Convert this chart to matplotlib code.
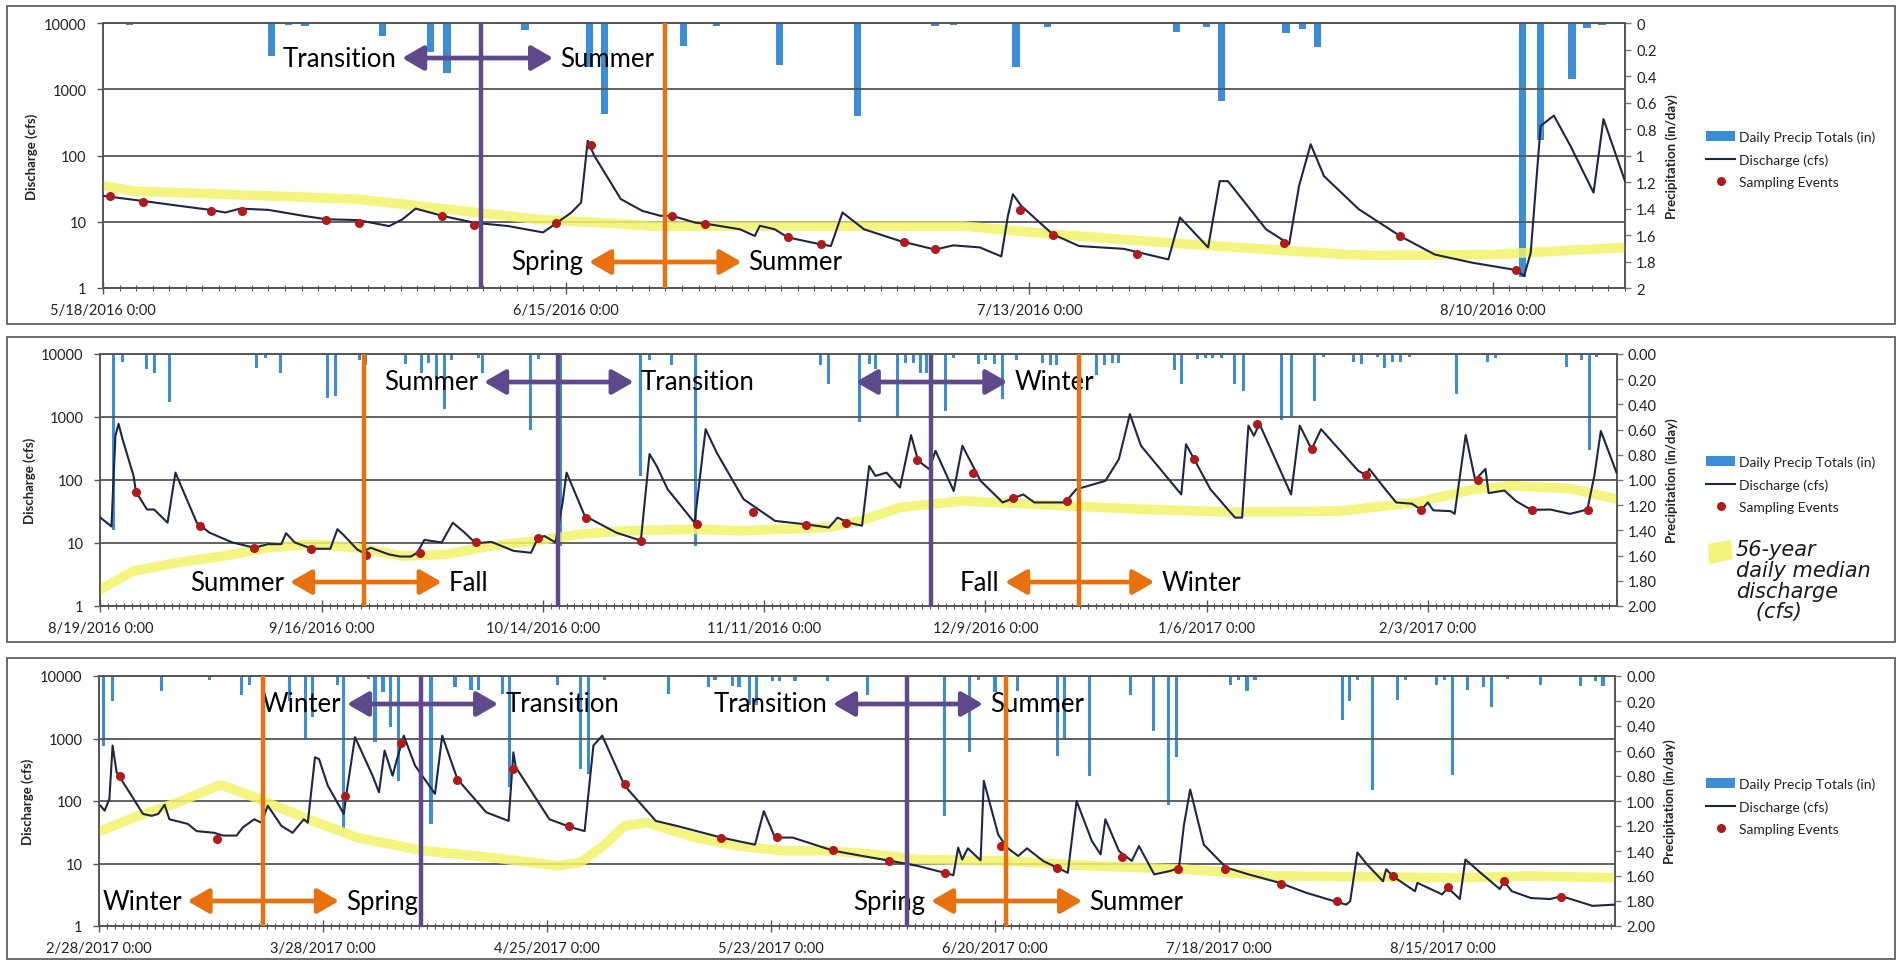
import numpy as np
import matplotlib
matplotlib.use("Agg")
import matplotlib.pyplot as plt
import matplotlib.dates as mdates
from matplotlib.patches import Rectangle, Polygon, Patch
from matplotlib.lines import Line2D
from matplotlib.ticker import FixedLocator, FuncFormatter, NullLocator
from datetime import datetime, timedelta

plt.rcParams['font.family'] = ['Lato', 'DejaVu Sans']

# ---------------- data (x = days since panel start) ----------------
# panel 1: 5/18/2016 - 8/18/2016
p1_start = datetime(2016, 5, 18)
p1_span = 92.0
p1_q_day = [0.0, 2.4, 4.6, 6.5, 7.4, 8.3, 10.0, 12.1, 13.5, 15.4, 17.3, 18.1, 18.9, 20.5, 22.4,
            24.5, 26.6, 27.4, 28.3, 28.9, 29.3, 29.7, 31.3, 32.6, 33.7, 34.4, 35.8, 36.6, 38.5,
            39.4, 39.7, 40.6, 41.4, 43.3, 44.0, 44.7, 46.0, 48.2, 50.3, 51.4, 53.0, 54.3, 54.7,
            55.0, 55.5, 57.4, 59.0, 61.7, 64.4, 65.1, 66.8, 67.5, 68.0, 70.3, 71.7, 72.3, 73.0,
            73.8, 75.9, 78.4, 80.5, 82.8, 85.4, 85.9, 86.3, 86.9, 87.7, 88.7, 90.1, 90.7, 92.0]
p1_q = [24.6, 20.6, 17.4, 15.1, 13.8, 15.8, 15.1, 12.3, 10.9, 10.6, 8.6, 10.9, 15.8, 12.3, 9.7,
        8.6, 6.9, 9.5, 13.7, 19.5, 167, 99, 22, 14.6, 12.3, 12.3, 9.7, 9.2, 7.7,
        6.1, 8.7, 7.7, 5.8, 4.6, 4.3, 13.8, 7.7, 5.1, 3.8, 4.4, 4.1, 3.0, 12.3,
        26, 17.4, 6.5, 4.3, 3.9, 2.7, 11.6, 4.1, 41, 41, 7.7, 4.6, 35, 148,
        49, 15.5, 6.1, 3.2, 2.4, 1.87, 1.52, 3.4, 280, 400, 140, 27.5, 355, 41]
p1_s_day = [0.4, 2.4, 6.5, 8.4, 13.5, 15.5, 20.5, 22.4, 27.4, 29.5, 34.4, 36.4, 41.4, 43.4,
            48.4, 50.3, 55.4, 57.4, 62.5, 71.4, 78.4, 85.4]
p1_s_q = [24.6, 20, 14.5, 14.5, 10.6, 9.7, 12.3, 9.0, 9.5, 143, 12.3, 9.2, 5.8, 4.6,
          4.95, 3.9, 15, 6.3, 3.3, 4.8, 6.1, 1.87]
p1_m_day = [0, 1.9, 10, 15.4, 20.8, 26.2, 31.6, 33.1, 52, 57.4, 65.5, 75.2, 77, 84, 92]
p1_m_q = [34.8, 29, 24.6, 21.9, 15.5, 10.9, 9.2, 8.6, 8.6, 6.5, 4.6, 3.2, 3.1, 3.2, 4.1]
p1_r_day = [1.6, 10.2, 11.2, 12.2, 16.9, 19.8, 20.8, 25.5, 29.4, 30.3, 35.1, 37.1, 40.9, 45.6,
            50.3, 51.4, 55.2, 57.1, 64.9, 66.7, 67.6, 71.5, 72.5, 73.4, 85.8, 86.9, 88.8, 89.7, 90.6]
p1_r_in = [0.015, 0.25, 0.015, 0.025, 0.1, 0.22, 0.38, 0.05, 0.33, 0.69, 0.17, 0.02, 0.32, 0.7,
           0.02, 0.015, 0.33, 0.03, 0.065, 0.03, 0.59, 0.075, 0.045, 0.18, 1.92, 0.88, 0.42, 0.04, 0.015]

# panel 2: 8/19/2016 - 2/27/2017
p2_start = datetime(2016, 8, 19)
p2_span = 191.9
p2_q_day = [0.0, 1.4, 1.9, 2.3, 2.8, 4.2, 4.5, 5.9, 6.8, 8.5, 9.5, 10.2, 12.2, 13.8, 16.7, 19.5,
            21.2, 22.9, 23.5, 24.6, 26.8, 29.1, 30.0, 30.8, 32.5, 33.1, 34.2, 36.5, 37.9, 39.3,
            40.1, 41.0, 43.2, 44.6, 46.1, 47.5, 49.5, 52.3, 54.5, 55.4, 56.2, 57.6, 58.5, 59.0,
            61.3, 65.3, 68.4, 69.5, 70.4, 71.8, 75.2, 76.6, 78.0, 81.4, 85.4, 89.3, 92.2, 93.3,
            94.7, 96.4, 97.3, 98.1, 99.5, 101.2, 102.6, 103.5, 104.9, 105.7, 108.0, 109.1, 111.4,
            114.2, 116.8, 118.2, 122.1, 123.5, 127.2, 128.9, 130.3, 131.7, 136.8, 137.4, 140.5,
            143.6, 144.5, 145.3, 146.0, 146.7, 150.7, 151.8, 153.3, 154.5, 159.2, 160.2, 160.6,
            162.6, 164.0, 166.0, 167.2, 168.0, 168.7, 170.9, 171.4, 172.8, 174.0, 175.3, 175.7,
            177.7, 179.2, 181.1, 183.5, 186.0, 188.2, 189.1, 189.9, 190.9, 191.9]
p2_q = [25.3, 18.3, 505, 778, 446, 116, 65, 34, 34, 21, 131, 81, 21, 14.6, 10.2, 8.4,
        9.6, 9.6, 14.3, 10.2, 8.1, 8.1, 16.6, 13.3, 7.9, 7.2, 8.4, 6.6, 6.1, 6.1,
        7.0, 11.2, 10.2, 21, 14.6, 9.9, 10.4, 7.5, 7.0, 12.2, 12.9, 10.2, 44, 131,
        27, 14.6, 10.9, 258, 167, 71, 21, 640, 272, 49.6, 22.4, 19.8, 17.6, 25.3,
        21, 18.8, 167, 116, 131, 76, 515, 202, 149, 290, 67, 350, 97,
        44, 59, 44, 44, 71, 97, 214, 1110, 350, 59, 370, 71,
        25.3, 25.3, 730, 505, 778, 59, 730, 308, 640, 140, 119, 150,
        72, 44, 42, 33.6, 44, 33, 32, 29, 520, 100, 150, 62,
        68, 46, 33.6, 34, 29, 34, 120, 600, 280, 130]
p2_s_day = [4.5, 12.6, 19.5, 26.7, 33.6, 40.4, 47.5, 55.4, 61.4, 68.4, 75.5, 82.6, 89.3, 94.4,
            103.4, 110.4, 115.5, 122.4, 138.4, 146.4, 153.3, 160.2, 167.2, 174.3, 181.2, 188.3]
p2_s_q = [65, 18.3, 8.2, 8.1, 6.4, 6.9, 10.2, 11.9, 24.8, 10.8, 19.8, 31, 19.1, 21,
          207, 127, 52.6, 46.5, 214, 778, 308, 119, 33.6, 100, 33.6, 34]
p2_m_day = [0, 4.2, 9.9, 15.5, 21.2, 26.8, 32.5, 38.2, 43.8, 49.5, 55.1, 60.8, 66.4, 75.4, 80.9,
            92.2, 96.1, 101.2, 109.1, 120.4, 131.7, 143.0, 156.7, 166.5, 173.8, 178.7, 186.0, 191.9]
p2_m_q = [1.84, 3.6, 4.9, 6.2, 8.4, 9.6, 8.4, 6.2, 6.6, 9.0, 10.8, 13.8, 15.6, 16.5, 15.6,
          17.6, 22.4, 36.5, 46.5, 40, 34.4, 31, 32, 44, 71, 81, 73, 50]
p2_r_day = [1.7, 2.8, 5.8, 6.8, 8.8, 19.8, 20.9, 22.8, 28.8, 29.8, 32.8, 33.6, 38.6, 39.6, 40.6,
            41.5, 42.6, 43.5, 44.5, 47.8, 48.4, 53.4, 54.4, 55.4, 58.2, 68.4, 69.5, 72.3, 75.3,
            91.2, 92.2, 96.1, 97.3, 98.1, 100.9, 101.9, 102.9, 103.8, 104.6, 106.9, 108.0, 111.1,
            112.0, 113.1, 114.2, 116.0, 119.2, 120.2, 121.0, 126.1, 127.1, 128.1, 128.9, 132.3,
            133.1, 136.0, 136.8, 138.8, 139.9, 140.8, 141.9, 143.6, 144.7, 145.9, 149.5, 150.7,
            153.7, 154.8, 158.6, 159.6, 161.6, 162.5, 163.5, 164.6, 165.7, 171.6, 175.5, 176.6,
            185.5, 187.5, 188.5, 189.4]
p2_r_in = [1.4, 0.06, 0.12, 0.15, 0.38, 0.11, 0.03, 0.15, 0.35, 0.33, 0.05, 0.09, 0.08, 0.01, 0.15,
           0.07, 0.2, 0.44, 0.05, 0.03, 0.15, 0.01, 0.6, 0.04, 1.52, 0.97, 0.05, 0.09, 1.52,
           0.09, 0.24, 0.54, 0.08, 0.12, 0.5, 0.07, 0.07, 0.15, 0.15, 0.45, 0.03, 0.08,
           0.05, 0.08, 0.36, 0.05, 0.07, 0.09, 0.09, 0.17, 0.09, 0.07, 0.07, 0.01,
           0.01, 0.13, 0.24, 0.04, 0.03, 0.03, 0.03, 0.24, 0.29, 0.01, 0.52, 0.49,
           0.37, 0.02, 0.06, 0.08, 0.02, 0.11, 0.06, 0.06, 0.02, 0.32, 0.06, 0.03,
           0.10, 0.05, 0.76, 0.02]

# panel 3: 2/28/2017 - 9/5/2017
p3_start = datetime(2017, 2, 28)
p3_span = 189.5
p3_q_day = [0.2, 0.7, 1.3, 1.7, 2.2, 3.8, 5.5, 6.6, 7.4, 8.2, 8.8, 11.1, 12.2, 14.4, 15.5, 17.2,
            18.0, 19.4, 20.3, 21.1, 22.8, 24.2, 25.6, 26.1, 27.0, 27.5, 28.6, 30.6, 30.9, 32.0,
            34.2, 35.0, 35.7, 36.7, 37.2, 38.1, 39.5, 42.0, 42.9, 44.8, 48.4, 51.2, 51.8, 52.1,
            56.3, 59.0, 60.7, 61.8, 62.9, 65.7, 69.6, 72.2, 77.8, 82.0, 83.1, 84.5, 86.7, 91.8,
            95.7, 99.0, 102.4, 105.7, 106.8, 107.4, 107.9, 108.6, 110.2, 110.6, 112.4, 113.5,
            114.9, 116.0, 118.0, 121.1, 122.2, 124.1, 125.2, 125.8, 127.5, 129.1, 130.0, 131.9,
            133.9, 135.0, 135.6, 136.4, 138.1, 140.9, 143.7, 147.6, 150.9, 154.4, 155.9, 156.4,
            157.3, 158.5, 160.5, 160.9, 161.7, 164.5, 164.8, 167.9, 168.6, 170.1, 170.8, 172.7,
            175.1, 175.6, 176.6, 179.0, 181.4, 182.8, 186.7, 189.5]
p3_q = [84, 70, 108, 772, 289, 138, 62, 58, 62, 87, 51, 43, 33, 31, 28, 28,
        38, 51, 45, 84, 40, 31, 51, 45, 500, 470, 176, 62, 122, 1050,
        254, 138, 640, 254, 443, 1110, 370, 130, 1110, 224, 66, 48, 600, 347,
        51, 38, 33, 772, 1110, 176, 48, 40, 26, 20, 69, 26, 26, 16,
        13, 11, 9.1, 7.1, 6.5, 18, 11.6, 17.5, 11.2, 210, 29, 18,
        13.2, 17.5, 11, 7.1, 100, 23, 14, 51, 15.8, 11, 19, 6.7,
        7.6, 8.6, 40, 153, 20, 8.6, 6.7, 4.9, 3.4, 2.5, 2.2, 2.5,
        15, 9.7, 5.2, 8.1, 6.3, 3.6, 4.9, 3.2, 4.1, 2.7, 11.6, 7.1,
        3.9, 5.2, 3.6, 2.8, 2.7, 3.0, 2.1, 2.2]
p3_s_day = [2.6, 14.8, 30.8, 37.7, 44.8, 51.7, 58.7, 65.7, 77.8, 84.8, 91.8, 98.7, 105.7, 112.8,
            119.8, 127.9, 134.9, 140.8, 147.7, 154.7, 161.7, 168.6, 175.6, 182.8]
p3_s_q = [254, 24.5, 122, 840, 217, 325, 40, 187, 26, 26.5, 16.2, 11, 7.1, 19,
          8.4, 12.7, 8.2, 8.2, 4.76, 2.5, 6.3, 4.2, 5.2, 2.9]
p3_m_day = [0.2, 4.4, 9.9, 14.9, 15.5, 18.9, 26.7, 32.3, 40.6, 49.0, 57.4, 60.2, 63.0, 65.7, 68.5,
            74.5, 80.0, 85.6, 91.2, 96.8, 102.4, 113.5, 124.7, 135.8, 147.0, 159.7, 169.4, 179.0, 189.5]
p3_m_q = [33, 55, 95, 176, 176, 122, 48, 26, 16, 12.5, 9.2, 10.4, 19, 40, 45,
          26, 19, 16, 16, 14, 11.6, 11, 9.1, 8.1, 6.3, 6.1, 5.9, 6.3, 5.9]
p3_r_day = [0.6, 1.7, 3.8, 7.8, 13.8, 17.8, 18.8, 23.8, 25.8, 26.7, 29.8, 30.6, 33.7, 34.5, 35.5,
            36.4, 37.4, 41.5, 44.5, 46.5, 47.4, 50.4, 51.3, 57.3, 60.2, 61.2, 63.2, 71.2, 76.2,
            77.0, 79.2, 80.0, 81.3, 82.2, 84.2, 85.1, 87.0, 91.1, 96.1, 105.7, 108.8, 109.9,
            112.0, 114.8, 119.8, 120.7, 123.8, 128.9, 131.8, 133.7, 134.7, 141.4, 142.4, 143.5,
            144.5, 155.4, 156.3, 157.3, 159.2, 162.3, 163.3, 167.2, 168.2, 169.2, 171.1, 173.1,
            174.1, 176.1, 180.2, 185.2, 187.1, 188.0]
p3_r_in = [0.56, 0.2, 0.01, 0.12, 0.03, 0.15, 0.07, 0.2, 0.5, 0.33, 0.07, 1.22, 0.02, 0.53, 0.13,
           0.41, 0.84, 1.18, 0.09, 0.11, 0.11, 0.14, 0.89, 0.07, 0.74, 0.78, 0.03, 0.14, 0.09,
           0.03, 0.08, 0.09, 0.23, 0.23, 0.04, 0.04, 0.04, 0.04, 0.15, 1.12, 0.61, 0.03,
           0.13, 0.12, 0.64, 0.51, 0.8, 0.15, 0.44, 1.03, 0.65, 0.07, 0.03, 0.12,
           0.03, 0.35, 0.2, 0.03, 0.91, 0.19, 0.03, 0.07, 0.03, 0.79, 0.11, 0.09,
           0.25, 0.02, 0.07, 0.08, 0.04, 0.08]

# season boundaries (day, colour) and arrow labels
p1_bounds = [(22.85, 'purple'), (33.98, 'orange')]
p1_arrows = [(18.08, 27.21, 2960, 'purple', 'Transition', 'Summer'),
             (29.38, 38.6, 2.47, 'orange', 'Spring', 'Summer')]
p2_bounds = [(33.37, 'orange'), (57.9, 'purple'), (105.1, 'purple'), (123.9, 'orange')]
p2_arrows = [(48.56, 67.5, 3594, 'purple', 'Summer', 'Transition'),
             (24.0, 43.2, 2.4, 'orange', 'Summer', 'Fall'),
             (95.6, 114.8, 3594, 'purple', '', 'Winter'),
             (114.5, 133.4, 2.4, 'orange', 'Fall', 'Winter')]
p3_bounds = [(20.5, 'orange'), (40.25, 'purple'), (101.0, 'purple'), (113.4, 'orange')]
p3_arrows = [(31.0, 49.9, 3565, 'purple', 'Winter', 'Transition'),
             (11.06, 30.0, 2.51, 'orange', 'Winter', 'Spring'),
             (91.75, 110.5, 3565, 'purple', 'Transition', 'Summer'),
             (104.0, 122.9, 2.51, 'orange', 'Spring', 'Summer')]

# ---------------- style ----------------
W, H = 1904, 962
BLUE = '#3B8ED6'
NAVY = '#1E2545'
RED = '#B01A1A'
YELLOW = '#F3F36A'
PURPLE = '#5E4A8A'
ORANGE = '#E8710E'
GRID = '#555555'
COLORS = {'purple': PURPLE, 'orange': ORANGE}

fig = plt.figure(figsize=(W / 100, H / 100), dpi=100)


def fx(px):
    return px / W


def fy(py):
    return 1 - py / H


def days(start, d):
    return [start + timedelta(days=float(v)) for v in d]


panels = [
    dict(rect=(103, 24, 1625, 289), start=p1_start, span=p1_span, q_day=p1_q_day, q=p1_q,
         s_day=p1_s_day, s_q=p1_s_q, m_day=p1_m_day, m_q=p1_m_q, r_day=p1_r_day, r_in=p1_r_in,
         bar_w=0.45, fmt='%g', bounds=p1_bounds, arrows=p1_arrows, frame=(7, 7, 1895, 325),
         legend_y=140),
    dict(rect=(100.4, 355, 1616.6, 607), start=p2_start, span=p2_span, q_day=p2_q_day, q=p2_q,
         s_day=p2_s_day, s_q=p2_s_q, m_day=p2_m_day, m_q=p2_m_q, r_day=p2_r_day, r_in=p2_r_in,
         bar_w=0.38, fmt='%.2f', bounds=p2_bounds, arrows=p2_arrows, frame=(7, 338, 1895, 643),
         legend_y=465),
    dict(rect=(99, 677, 1615, 927), start=p3_start, span=p3_span, q_day=p3_q_day, q=p3_q,
         s_day=p3_s_day, s_q=p3_s_q, m_day=p3_m_day, m_q=p3_m_q, r_day=p3_r_day, r_in=p3_r_in,
         bar_w=0.38, fmt='%.2f', bounds=p3_bounds, arrows=p3_arrows, frame=(7, 659, 1895, 960),
         legend_y=787),
]

for p in panels:
    x0, y0, x1, y1 = p['rect']
    # outer frame of the panel
    f0, g0, f1, g1 = p['frame']
    fig.patches.append(Rectangle((fx(f0), fy(g1)), fx(f1 - f0), (g1 - g0) / H,
                                 transform=fig.transFigure, fill=False,
                                 edgecolor='#606060', lw=1.3, zorder=0))

    ax = fig.add_axes([fx(x0), fy(y1), fx(x1 - x0), (y1 - y0) / H])
    ax2 = ax.twinx()
    ax.set_zorder(ax2.get_zorder() + 1)
    ax.patch.set_visible(False)

    start = p['start']
    end = start + timedelta(days=p['span'])

    # precipitation bars hanging from the top
    ax2.bar(days(start, p['r_day']), p['r_in'], width=p['bar_w'], color=BLUE, zorder=2)
    ax2.set_ylim(2, 0)
    ax2.set_yticks(np.arange(0, 2.01, 0.2))
    ax2.yaxis.set_major_formatter(FuncFormatter(lambda v, pos, f=p['fmt']: f % v))
    ax2.tick_params(axis='y', length=4, width=1, color='#777777', labelsize=10.5,
                    pad=4, labelcolor='#222222')
    ax2.set_ylabel('Precipitation (in/day)', fontsize=9.5, fontweight='bold',
                   color='#222222', labelpad=6)

    # median, discharge, sampling events
    ax.plot(days(start, p['m_day']), p['m_q'], color=YELLOW, lw=7, alpha=0.85,
            solid_capstyle='round', zorder=2)
    ax.plot(days(start, p['q_day']), p['q'], color=NAVY, lw=1.5, zorder=3)
    ax.plot(days(start, p['s_day']), p['s_q'], ls='', marker='o', ms=5.5,
            color=RED, zorder=4)

    ax.set_yscale('log')
    ax.set_ylim(1, 10000)
    ax.set_yticks([1, 10, 100, 1000, 10000])
    ax.set_yticklabels(['1', '10', '100', '1000', '10000'])
    ax.yaxis.set_minor_locator(NullLocator())
    ax.tick_params(axis='y', length=4, width=1, color='#555555', labelsize=10.5,
                   pad=8, labelcolor='#222222')
    ax.set_ylabel('Discharge (cfs)', fontsize=9.5, fontweight='bold', color='#222222',
                  labelpad=4)
    ax.grid(axis='y', which='major', color=GRID, lw=1.3)

    ax.set_xlim(start, end)
    major = [start + timedelta(days=28 * k) for k in range(int(p['span'] // 28) + 1)]
    ax.xaxis.set_major_locator(FixedLocator(mdates.date2num(major)))
    ax.set_xticklabels([f'{d.month}/{d.day}/{d.year} 0:00' for d in major])
    minor = [start + timedelta(days=k) for k in range(int(p['span']) + 1)]
    ax.xaxis.set_minor_locator(FixedLocator(mdates.date2num(minor)))
    ax.tick_params(axis='x', which='major', direction='inout', length=9, width=1,
                   color='#555555', labelsize=10.5, pad=6, labelcolor='#222222')
    ax.tick_params(axis='x', which='minor', direction='inout', length=4, width=0.8,
                   color='#555555')
    ax2.tick_params(axis='x', which='both', length=0)

    for a in (ax, ax2):
        for s in a.spines.values():
            s.set_color('#555555')
            s.set_linewidth(1.2)

    # season boundaries
    for d, c in p['bounds']:
        ax.axvline(start + timedelta(days=d), color=COLORS[c], lw=3.2, zorder=6)

    # arrows with season names
    for d0, d1, qy, c, lt, rt in p['arrows']:
        a0 = start + timedelta(days=d0)
        a1 = start + timedelta(days=d1)
        ax.annotate('', xy=(a1, qy), xytext=(a0, qy),
                    arrowprops=dict(arrowstyle='<|-|>,head_length=1.3,head_width=0.75',
                                    color=COLORS[c], lw=3.4, shrinkA=0, shrinkB=0),
                    zorder=7)
        if lt:
            ax.annotate(lt, xy=(a0, qy), xytext=(-4, 0), textcoords='offset points',
                        ha='right', va='center', fontsize=18.5, color='black', zorder=5)
        if rt:
            ax.annotate(rt, xy=(a1, qy), xytext=(5, 0), textcoords='offset points',
                        ha='left', va='center', fontsize=18.5, color='black', zorder=5)

    handles = [Patch(facecolor=BLUE, edgecolor='none'),
               Line2D([], [], color=NAVY, lw=1.5),
               Line2D([], [], ls='', marker='o', ms=5.5, color=RED)]
    labels = ['Daily Precip Totals (in)', 'Discharge (cfs)', 'Sampling Events']
    ax.legend(handles, labels, loc='upper left', frameon=False, fontsize=10,
              bbox_to_anchor=(fx(1706), fy(p['legend_y'] - 9)),
              bbox_transform=fig.transFigure, borderpad=0, borderaxespad=0,
              handlelength=2.1, handleheight=0.7, handletextpad=0.3, labelspacing=0.75,
              labelcolor='#222222')

# hand-written note for the median band (panel 2)
fig.patches.append(Polygon([(fx(1708), fy(545)), (fx(1731), fy(541)), (fx(1733), fy(560)),
                            (fx(1709), fy(565))], closed=True, transform=fig.transFigure,
                           facecolor=YELLOW, edgecolor='none', alpha=0.9))
fig.text(fx(1736), fy(540), '56-year\ndaily median\ndischarge\n   (cfs)', ha='left', va='top',
         fontsize=15, family=['DejaVu Sans'], fontstyle='italic', fontweight='light',
         color='#1a1a1a', linespacing=1.05)

fig.savefig('out.png', dpi=100, facecolor='white')
